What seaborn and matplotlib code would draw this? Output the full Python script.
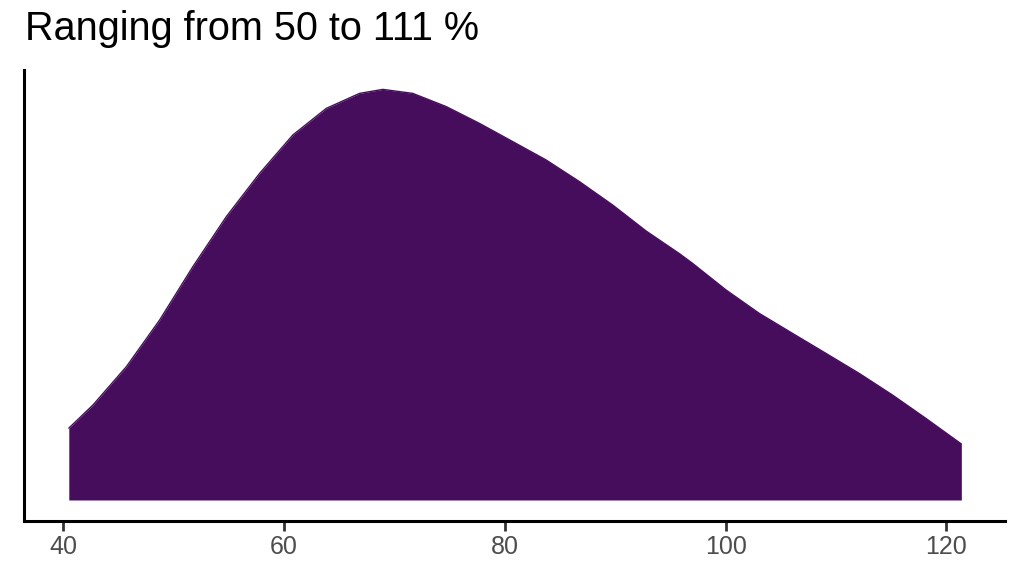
import matplotlib
matplotlib.use("Agg")
import matplotlib.pyplot as plt
import seaborn as sns
import pandas as pd

# density curve (x in %, y density)
pct = [40.52, 42.71, 45.74, 48.75, 51.76, 54.79, 57.80, 60.81, 63.84,
       66.85, 68.96, 71.67, 74.70, 77.71, 80.72, 83.75, 86.76, 89.77,
       92.80, 95.81, 97.01, 100.04, 103.05, 106.06, 109.09, 112.10,
       115.11, 118.14, 121.35]
dens = [0.00359, 0.00475, 0.00667, 0.00900, 0.01167, 0.01417, 0.01633,
        0.01825, 0.01958, 0.02033, 0.02053, 0.02033, 0.01967, 0.01883,
        0.01792, 0.01700, 0.01592, 0.01475, 0.01345, 0.01232, 0.01183,
        0.01050, 0.00933, 0.00833, 0.00733, 0.00633, 0.00525, 0.00408,
        0.00280]
tick_vals = [40, 60, 80, 100, 120]
title = "Ranging from 50 to 111 %"
fill_col = "#470d5d"

df = pd.DataFrame({"pct": pct, "dens": dens})

sns.set_style("ticks")
plt.rcParams["font.family"] = ["Liberation Sans", "DejaVu Sans"]

fig = plt.figure(figsize=(10.24, 5.76), dpi=100)
ax = fig.add_axes([0.0234, 0.0955, 0.958, 0.783])

ax.fill_between(df["pct"], 0, df["dens"], color=fill_col, linewidth=0)
sns.lineplot(data=df, x="pct", y="dens", color=fill_col, linewidth=1, ax=ax)

ax.set_xlim(36.46, 125.3)
ax.set_ylim(-0.00105, 0.0215)
ax.set_xticks(tick_vals)
ax.set_xticklabels([str(v) for v in tick_vals])
ax.set_yticks([])
ax.set_xlabel("")
ax.set_ylabel("")

for side in ["top", "right"]:
    ax.spines[side].set_visible(False)
for side in ["left", "bottom"]:
    ax.spines[side].set_linewidth(2.2)
    ax.spines[side].set_color("black")

ax.tick_params(axis="x", length=7, width=2, color="#333333",
               labelsize=18, labelcolor="#4d4d4d", pad=3)

fig.text(0.0245, 0.93, title, fontsize=28.5, color="black",
         ha="left", va="baseline")

fig.savefig("out.png", dpi=100)
